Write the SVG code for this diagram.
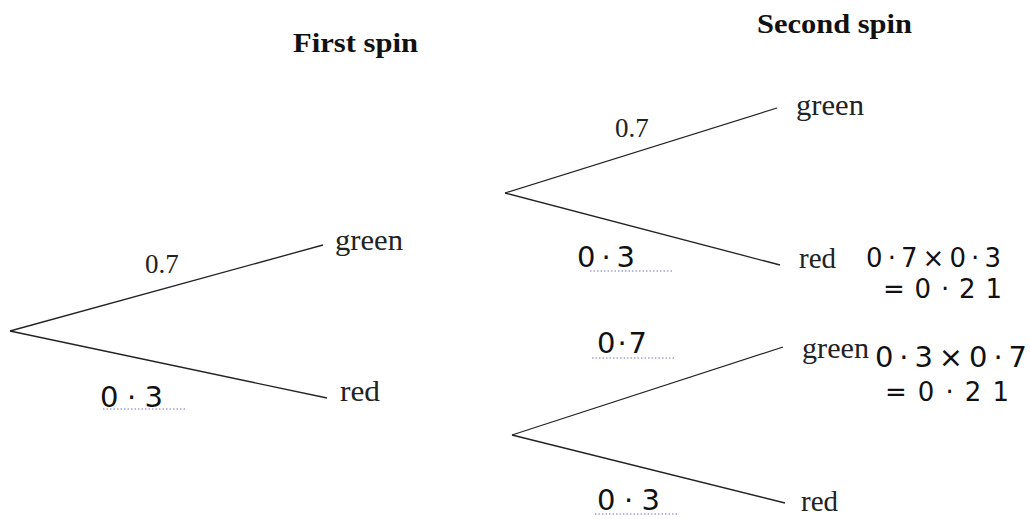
<svg xmlns="http://www.w3.org/2000/svg" width="1030" height="519" viewBox="0 0 1030 519">
<style>
.bg{fill:#ffffff}
.title{font-family:"Liberation Serif",serif;font-weight:bold;font-size:28px;fill:#111}
.lbl{font-family:"Liberation Serif",serif;font-size:29px;fill:#222}
.prob{font-family:"Liberation Serif",serif;font-size:27px;fill:#222}
.hw{font-family:"DejaVu Sans","Liberation Sans",sans-serif;font-size:29px;fill:#111}
.hws{font-family:"DejaVu Sans","Liberation Sans",sans-serif;font-size:26px;fill:#111}
.branch{stroke:#222;stroke-width:1.3;fill:none}
.dots{stroke:#7070c8;stroke-width:1;stroke-dasharray:1.5 2;fill:none}
</style>
<rect class="bg" x="0" y="0" width="1030" height="519"/>
<g id="titles">
<text id="first-spin" class="title" x="293" y="52" textLength="125" lengthAdjust="spacingAndGlyphs">First spin</text>
<text id="second-spin" class="title" x="757" y="33" textLength="155" lengthAdjust="spacingAndGlyphs">Second spin</text>
</g>
<g id="connectors">
<line class="branch" x1="10" y1="331" x2="323" y2="245"/>
<line class="branch" x1="10" y1="331" x2="327" y2="398"/>
<line class="branch" x1="505" y1="193" x2="777" y2="108"/>
<line class="branch" x1="505" y1="193" x2="780" y2="265"/>
<line class="branch" x1="512" y1="435" x2="783" y2="347"/>
<line class="branch" x1="512" y1="435" x2="785" y2="503"/>
</g>
<g id="node-first-green"><text class="lbl" x="335" y="250" textLength="68" lengthAdjust="spacingAndGlyphs">green</text></g>
<g id="node-first-red"><text class="lbl" x="340" y="401" textLength="40" lengthAdjust="spacingAndGlyphs">red</text></g>
<g id="node-g-green"><text class="lbl" x="796" y="115" textLength="68" lengthAdjust="spacingAndGlyphs">green</text></g>
<g id="node-g-red"><text class="lbl" x="799" y="268" textLength="37" lengthAdjust="spacingAndGlyphs">red</text></g>
<g id="node-r-green"><text class="lbl" x="802" y="358" textLength="67" lengthAdjust="spacingAndGlyphs">green</text></g>
<g id="node-r-red"><text class="lbl" x="801" y="511" textLength="37" lengthAdjust="spacingAndGlyphs">red</text></g>
<g id="labels">
<text class="prob" x="145" y="273">0.7</text>
<text class="hw" x="100" y="407" textLength="63" lengthAdjust="spacing">0·3</text>
<line class="dots" x1="103" y1="409" x2="186" y2="409"/>
<text class="prob" x="615" y="137">0.7</text>
<text class="hw" x="577" y="267" textLength="58" lengthAdjust="spacing">0·3</text>
<line class="dots" x1="590" y1="271" x2="672" y2="271"/>
<text class="hws" x="866" y="267" textLength="135" lengthAdjust="spacing">0·7×0·3</text>
<text class="hws" x="883" y="298" textLength="119" lengthAdjust="spacing">=0·21</text>
<text class="hw" x="597" y="353" textLength="50" lengthAdjust="spacing">0·7</text>
<line class="dots" x1="592" y1="358" x2="675" y2="358"/>
<text class="hw" x="875" y="367" textLength="152" lengthAdjust="spacing">0·3×0·7</text>
<text class="hws" x="885" y="401" textLength="124" lengthAdjust="spacing">=0·21</text>
<text class="hw" x="597" y="510" textLength="63" lengthAdjust="spacing">0·3</text>
<line class="dots" x1="595" y1="514" x2="678" y2="514"/>
</g>
</svg>
